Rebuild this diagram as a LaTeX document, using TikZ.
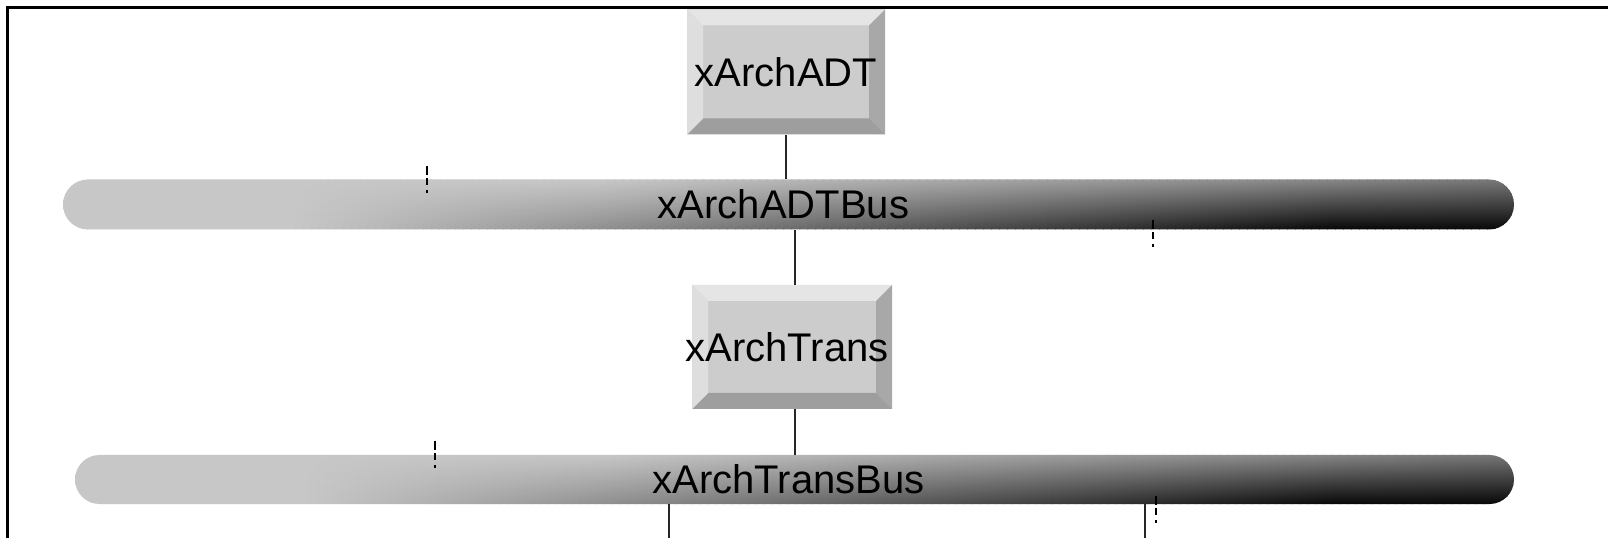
\documentclass[tikz,border=0pt]{standalone}
\usepackage{fontspec}
\setmainfont{Liberation Sans}
\usetikzlibrary{shapes.misc,calc}

\definecolor{boxface}{gray}{0.80}
\definecolor{bevtopc}{gray}{0.90}
\definecolor{bevleftc}{gray}{0.87}
\definecolor{bevrightc}{gray}{0.66}
\definecolor{bevbottomc}{gray}{0.62}

\newcommand\labelfont{\fontsize{40}{46}\selectfont}
\def\bevw{16}

% Raised 3D faces of a component box
\newcommand\bevelfaces{%
  \coordinate (bSW) at (path picture bounding box.south west);
  \coordinate (bNE) at (path picture bounding box.north east);
  \coordinate (bNW) at (bSW |- bNE);
  \coordinate (bSE) at (bNE |- bSW);
  \fill[bevtopc] (bNW) -- (bNE) -- ($(bNE)+(-\bevw,-\bevw)$) -- ($(bNW)+(\bevw,-\bevw)$) -- cycle;
  \fill[bevrightc] (bNE) -- (bSE) -- ($(bSE)+(-\bevw,\bevw)$) -- ($(bNE)+(-\bevw,-\bevw)$) -- cycle;
  \fill[bevbottomc] (bSE) -- (bSW) -- ($(bSW)+(\bevw,\bevw)$) -- ($(bSE)+(-\bevw,\bevw)$) -- cycle;
  \fill[bevleftc] (bSW) -- (bNW) -- ($(bNW)+(\bevw,-\bevw)$) -- ($(bSW)+(\bevw,\bevw)$) -- cycle;
}

% Grey level of the bus body at relative position #1 (0 left .. 1 right)
% and depth #2 (0 top .. 1 bottom); the result goes to \busgrey.
\newcommand\busgreyat[2]{%
  \pgfmathsetmacro\busgrey{max(0.03,0.78-(0.5+0.55*#2)*max(0,#1-(0.37-0.21*#2)))}%
}

% Bus body: light grey on the left, darkening towards the right and
% towards the lower edge; built from narrow vertically shaded strips.
\newcommand\busslices[1]{%
  \coordinate (sSW) at (path picture bounding box.south west);
  \pgfmathtruncatemacro\busnslices{#1/8}%
  \foreach \i in {0,...,\busnslices}{%
    \pgfmathsetmacro\bust{(\i*8+4)/#1}%
    \busgreyat{\bust}{0}\definecolor{slicetop}{gray}{\busgrey}%
    \busgreyat{\bust}{0.5}\definecolor{slicemid}{gray}{\busgrey}%
    \busgreyat{\bust}{1}\definecolor{slicebot}{gray}{\busgrey}%
    \shade[top color=slicetop, middle color=slicemid, bottom color=slicebot]
      ($(sSW)+(\i*8,0)$) rectangle ++(9,50);
  }%
}

\tikzset{
  bevelbox/.style={rectangle, inner sep=0pt, fill=boxface, font=\labelfont,
    minimum width=198pt, minimum height=125pt, path picture={\bevelfaces}},
  busbar/.style={rounded rectangle, inner sep=0pt, minimum height=50pt, font=\labelfont,
    minimum width=#1pt, path picture={\busslices{#1}}},
  link/.style={draw=black!85, line width=1.7pt},
  portmark/.style={draw=black, line width=2.2pt,
    dash pattern=on 9pt off 3pt on 7pt off 5pt on 3pt off 20pt},
  frameline/.style={draw=black, line width=2.6pt},
}

\begin{document}
\begin{tikzpicture}[x=1pt,y=1pt]
\useasboundingbox[fill=white] (0,0) rectangle (1608,538);

% window frame
\draw[frameline] (7.5,0) -- (7.5,530.5) -- (1608,530.5);

% components and buses
\node[bevelbox] (adt) at (786,466) {\makebox[0pt]{xArchADT}};
\node[busbar=1451] (bus1) at (788.5,333.5) {\hspace*{-10pt}xArchADTBus};
\node[bevelbox, minimum width=200pt, minimum height=124pt] (trans) at (792,191) {\makebox[0pt]{\hspace*{-10pt}xArchTrans}};
\node[busbar=1439, minimum height=49pt] (bus2) at (794.5,58.5) {\hspace*{-12pt}xArchTransBus};

% free ends of the lower links
\coordinate (down1) at (669,0);
\coordinate (down2) at (1145,0);

% links
\draw[link] (adt.south) -- (adt.south |- bus1.north);
\draw[link] ([xshift=3pt]trans.north) -- ([xshift=3pt]trans.north |- bus1.south);
\draw[link] ([xshift=3pt]trans.south) -- ([xshift=3pt]trans.south |- bus2.north);
\draw[link] (down1 |- bus2.south) -- (down1);
\draw[link] (down2 |- bus2.south) -- (down2);

% port marks on the buses
\coordinate (p1) at (427,372);
\coordinate (p2) at (1153,318);
\coordinate (p3) at (435,97);
\coordinate (p4) at (1156,42);
\draw[portmark] (p1) -- ++(0,-27);
\draw[portmark] (p2) -- ++(0,-27);
\draw[portmark] (p3) -- ++(0,-27);
\draw[portmark] (p4) -- ++(0,-27);
\end{tikzpicture}
\end{document}
